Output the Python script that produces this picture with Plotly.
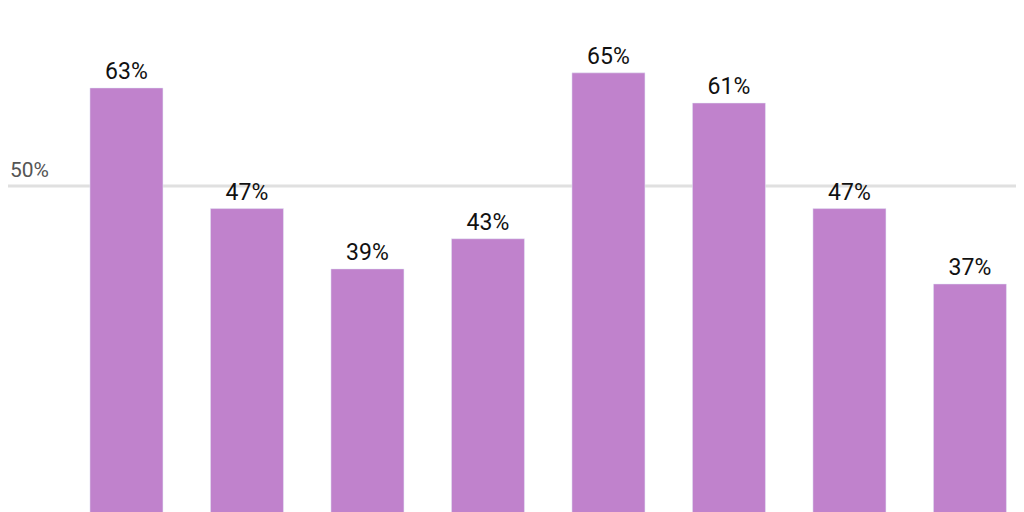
import plotly.graph_objects as go

categories = ["A", "B", "C", "D", "E", "F", "G", "H"]
values = [63, 47, 39, 43, 65, 61, 47, 37]
labels = [f"{v}%" for v in values]

fig = go.Figure()
fig.add_trace(go.Bar(
    x=list(range(len(categories))),
    y=values,
    marker_color="#C082CC",
    text=labels,
    textposition="outside",
    textfont=dict(size=23, color="#111111", family="Roboto"),
    cliponaxis=False,
))

fig.add_shape(type="line", xref="paper", yref="y", x0=0, x1=1012 / 1024, y0=50, y1=50,
              line=dict(color="#e0e0e0", width=3), layer="below")
fig.add_annotation(xref="paper", yref="y", x=0, y=50, text="50%", showarrow=False,
                   xanchor="left", yanchor="bottom", yshift=2,
                   font=dict(size=21, color="#555555", family="Roboto"))

fig.update_layout(
    width=1024, height=512,
    margin=dict(l=0, r=0, t=0, b=0),
    plot_bgcolor="white", paper_bgcolor="white",
    bargap=0.394,
    showlegend=False,
    xaxis=dict(range=[-0.983, 7.515], visible=False),
    yaxis=dict(range=[5.7, 73.6], visible=False),
)

fig.write_html("out.html")
